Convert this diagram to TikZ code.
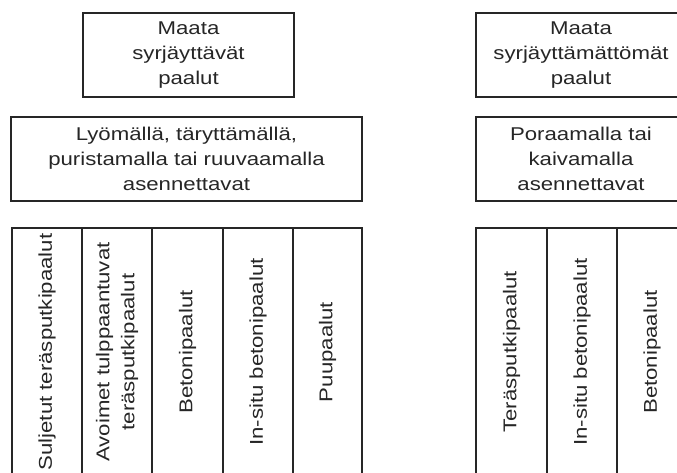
\documentclass[tikz,border=0pt]{standalone}
\usepackage{fontspec}
\setmainfont{Liberation Sans}[FakeStretch=1.2]
\begin{document}
\begin{tikzpicture}[x=1pt,y=-1pt,
  box/.style={draw=black!85, line width=1.4pt, rectangle, inner sep=0pt, align=center,
    text=black!85, font=\fontsize{18.5}{25}\selectfont},
  col/.style={box, rotate=90, minimum width=248pt}]
\useasboundingbox (0,0) rectangle (677,472);
\clip (0,0) rectangle (677,472);
% left group
\node[box, minimum width=211pt, minimum height=84pt] (ltop) at (188.5,55) {Maata\\syrjäyttävät\\paalut};
\node[box, minimum width=351pt, minimum height=84pt] (lmid) at (186.5,159) {Lyömällä, täryttämällä,\\puristamalla tai ruuvaamalla\\asennettavat};
\node[col, minimum height=70pt] (c1) at (47,352) {Suljetut teräsputkipaalut};
\node[col, minimum height=70pt] (c2) at (117,352) {Avoimet tulppaantuvat\\teräsputkipaalut};
\node[col, minimum height=71pt] (c3) at (187.5,352) {Betonipaalut};
\node[col, minimum height=70pt] (c4) at (258,352) {In-situ betonipaalut};
\node[col, minimum height=69pt] (c5) at (327.5,352) {Puupaalut};
% right group
\node[box, minimum width=210pt, minimum height=84pt] (rtop) at (581,55) {Maata\\syrjäyttämättömät\\paalut};
\node[box, minimum width=210pt, minimum height=84pt] (rmid) at (581,159) {Poraamalla tai\\kaivamalla\\asennettavat};
\node[col, minimum height=71pt] (r1) at (511.5,352) {Teräsputkipaalut};
\node[col, minimum height=70pt] (r2) at (582,352) {In-situ betonipaalut};
\node[col, minimum height=70pt] (r3) at (652,352) {Betonipaalut};
\end{tikzpicture}
\end{document}
